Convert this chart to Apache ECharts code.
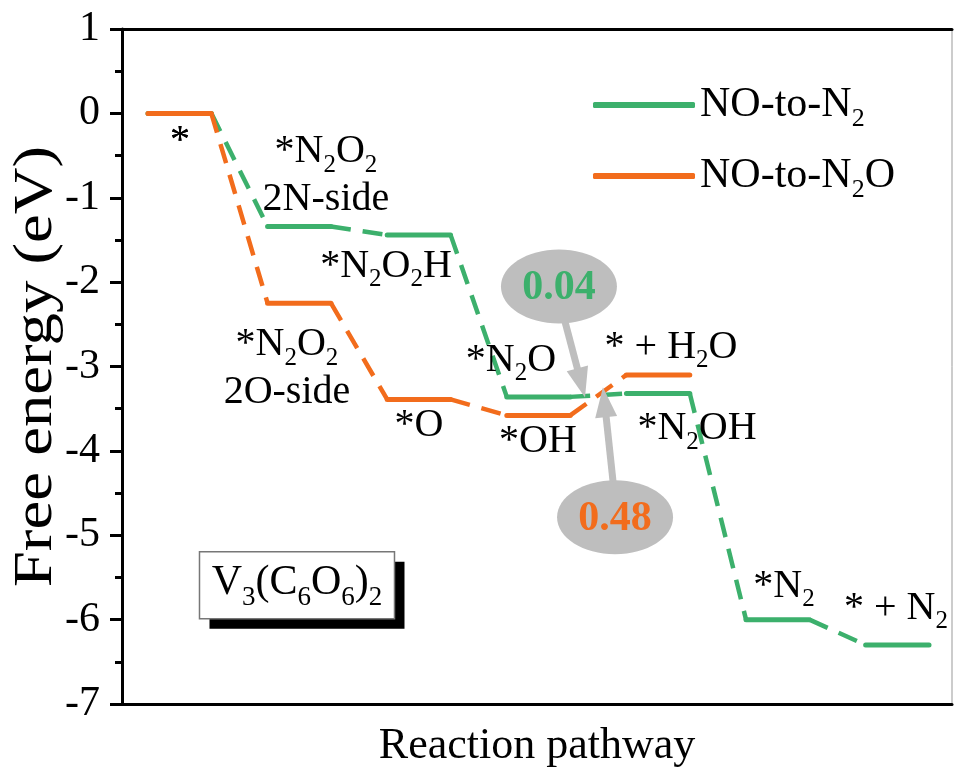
<!DOCTYPE html>
<html><head><meta charset="utf-8">
<script src="https://cdn.jsdelivr.net/npm/echarts@6/dist/echarts.min.js"></script>
<style>html,body{margin:0;padding:0;background:#fff}#c{width:955px;height:775px}</style>
</head><body><div id="c"></div>
<script>
// ---- data ----
const n2Steps  = ['*', '*N2O2 (2N-side)', '*N2O2H', '*N2O', '*N2OH', '*N2', '* + N2'];
const n2Energy = [0, -1.34, -1.44, -3.36, -3.32, -6.00, -6.30];
const n2oSteps  = ['*', '*N2O2 (2O-side)', '*O', '*OH', '* + H2O'];
const n2oEnergy = [0, -2.25, -3.39, -3.58, -3.10];
const yTicks = [1, 0, -1, -2, -3, -4, -5, -6, -7];
const barrierN2 = '0.04';
const barrierN2O = '0.48';
const material = 'V3(C6O6)2';

// ---- style / layout ----
const FONT = '"Liberation Serif","Times New Roman",serif';
const GREEN = '#3cb06c', ORANGE = '#f26c1c', GREY = '#bebebe';
const W = 0.53; // level width in step units
const rich = {
  m: {fontFamily: FONT, fontSize: 40, lineHeight: 44, color: '#000'},
  s: {fontFamily: FONT, fontSize: 25, lineHeight: 52, verticalAlign: 'bottom', color: '#000'}
};
const labelText = {
  '*': '{m|*}',
  '*N2O2 (2N-side)': '{m|*N}{s|2}{m|O}{s|2}\n{m|2N-side}',
  '*N2O2H': '{m|*N}{s|2}{m|O}{s|2}{m|H}',
  '*N2O': '{m|*N}{s|2}{m|O}',
  '*N2OH': '{m|*N}{s|2}{m|OH}',
  '*N2': '{m|*N}{s|2}',
  '* + N2': '{m|* + N}{s|2}',
  '*N2O2 (2O-side)': '{m|*N}{s|2}{m|O}{s|2}\n{m|2O-side}',
  '*O': '{m|*O}',
  '*OH': '{m|*OH}',
  '* + H2O': '{m|* + H}{s|2}{m|O}'
};
const labelPos = {
  '*': [0.268, -0.333],
  '*N2O2 (2N-side)': [1.488, -0.712],
  '*N2O2H': [1.99, -1.814],
  '*N2O': [3.035, -2.928],
  '*N2OH': [4.59, -3.735],
  '*N2': [5.318, -5.605],
  '* + N2': [6.254, -5.866],
  '*N2O2 (2O-side)': [1.162, -3.00],
  '*O': [2.266, -3.70],
  '*OH': [3.26, -3.887],
  '* + H2O': [4.373, -2.774]
};

function levelData(vals) {
  const d = [];
  vals.forEach((v, i) => { d.push([i, v], [i + W, v], [i + W + 0.01, '-']); });
  return d;
}
function connData(vals) {
  const d = [];
  for (let i = 0; i < vals.length - 1; i++) {
    d.push([i + W, vals[i]], [i + 1, vals[i + 1]], [i + 1.01, '-']);
  }
  return d;
}

const chart = echarts.init(document.getElementById('c'));
const xMin = -0.217, xMax = 6.722;
chart.setOption({
  animation: false,
  grid: {left: 122, right: 3, top: 29, bottom: 71, show: true, borderColor: '#999', borderWidth: 1,
         containLabel: false, outerBoundsMode: 'none'},
  legend: {
    orient: 'vertical', left: 588, top: 79, itemGap: 23, itemWidth: 102, itemHeight: 6,
    icon: 'roundRect', itemTextGap: 10,
    data: ['NO-to-N2', 'NO-to-N2O'],
    formatter: n => n === 'NO-to-N2' ? '{m|NO-to-N}{s|2}' : '{m|NO-to-N}{s|2}{m|O}',
    textStyle: {rich: {
      m: {fontFamily: FONT, fontSize: 42, lineHeight: 44, color: '#000'},
      s: {fontFamily: FONT, fontSize: 26, lineHeight: 54, verticalAlign: 'bottom', color: '#000'}
    }}
  },
  xAxis: [{
    type: 'value', min: xMin, max: xMax,
    axisLine: {show: true, onZero: false, lineStyle: {color: '#000', width: 3}},
    axisTick: {show: false}, axisLabel: {show: false}, splitLine: {show: false},
    name: 'Reaction pathway', nameLocation: 'middle', nameGap: 20,
    nameTextStyle: {fontFamily: FONT, fontSize: 44, color: '#000'}
  }, {
    type: 'value', min: xMin, max: xMax, position: 'top',
    axisLine: {show: true, onZero: false, lineStyle: {color: '#000', width: 3}},
    axisTick: {show: false}, axisLabel: {show: false}, splitLine: {show: false}
  }],
  yAxis: {
    type: 'value', min: Math.min(...yTicks), max: Math.max(...yTicks), interval: 1,
    axisLine: {show: true, onZero: false, lineStyle: {color: '#000', width: 3}},
    axisTick: {show: true, inside: false, length: 12, lineStyle: {color: '#000', width: 3}},
    minorTick: {show: true, splitNumber: 2, length: 7, lineStyle: {color: '#000', width: 3}},
    splitLine: {show: false},
    axisLabel: {margin: 22, fontFamily: FONT, fontSize: 42, color: '#000'}
  },
  series: [
    {name: 'NO-to-N2 path', type: 'line', data: connData(n2Energy), showSymbol: false, silent: true,
     color: GREEN, lineStyle: {color: GREEN, width: 4.5, type: [20, 12]}, z: 2},
    {name: 'NO-to-N2', type: 'line', data: levelData(n2Energy), showSymbol: false, silent: true,
     color: GREEN, lineStyle: {color: GREEN, width: 5, cap: 'round'}, z: 3},
    {name: 'NO-to-N2O path', type: 'line', data: connData(n2oEnergy), showSymbol: false, silent: true,
     color: ORANGE, lineStyle: {color: ORANGE, width: 4.5, type: [20, 12]}, z: 4},
    {name: 'NO-to-N2O', type: 'line', data: levelData(n2oEnergy), showSymbol: false, silent: true,
     color: ORANGE, lineStyle: {color: ORANGE, width: 5, cap: 'round'}, z: 5}
  ]
});

// ---- annotations (placed through the chart's own scales) ----
const px = p => chart.convertToPixel({gridIndex: 0}, p);
const g = [];
// y axis title (text stretched along its length as in the original figure)
const yMid = px([xMin, -3])[1];
g.push({type: 'text', x: 37, y: yMid, rotation: Math.PI / 2, scaleX: 1.2, silent: true,
  style: {text: 'Free energy (eV)', font: '54px ' + FONT, fill: '#000', align: 'center', verticalAlign: 'middle', textAlign: 'center', textVerticalAlign: 'middle'}});
[...n2Steps, ...n2oSteps].forEach(k => {
  if (!labelPos[k]) return;
  const p = px(labelPos[k]);
  g.push({type: 'text', x: p[0], y: p[1], z: 50, silent: true,
    style: {text: labelText[k], rich: rich, align: 'center', verticalAlign: 'middle', textAlign: 'center', textVerticalAlign: 'middle'}});
});
function arrow(a, b) {
  const dx = b[0] - a[0], dy = b[1] - a[1], L = Math.hypot(dx, dy), ux = dx / L, uy = dy / L;
  const hl = 30, hw = 11, bx = b[0] - ux * hl, by = b[1] - uy * hl;
  return [
    {type: 'line', z: 60, silent: true, shape: {x1: a[0], y1: a[1], x2: bx + ux * 2, y2: by + uy * 2}, style: {stroke: GREY, lineWidth: 7}},
    {type: 'polygon', z: 60, silent: true, shape: {points: [[b[0], b[1]], [bx - uy * hw, by + ux * hw], [bx + uy * hw, by - ux * hw]]}, style: {fill: GREY}}
  ];
}
const notes = [
  {text: barrierN2, color: GREEN, center: [3.436, -2.051], from: [3.487, -2.47], to: [3.654, -3.366]},
  {text: barrierN2O, color: ORANGE, center: [3.905, -4.788], from: [3.888, -4.36], to: [3.804, -3.247]}
];
notes.forEach(n => {
  const c = px(n.center);
  g.push({type: 'ellipse', z: 60, silent: true, shape: {cx: c[0], cy: c[1], rx: 58, ry: 37}, style: {fill: GREY}});
  g.push({type: 'text', z: 61, silent: true, x: c[0], y: c[1] + 2,
    style: {text: n.text, fill: n.color, font: 'bold 42px ' + FONT, align: 'center', verticalAlign: 'middle', textAlign: 'center', textVerticalAlign: 'middle'}});
  g.push(...arrow(px(n.from), px(n.to)));
});
const bc = px([1.246, -5.594]);
const bw = 195, bh = 67;
g.push({type: 'rect', z: 40, silent: true, shape: {x: bc[0] - bw / 2 + 10, y: bc[1] - bh / 2 + 10, width: bw, height: bh}, style: {fill: '#000'}});
g.push({type: 'rect', z: 41, silent: true, shape: {x: bc[0] - bw / 2, y: bc[1] - bh / 2, width: bw, height: bh}, style: {fill: '#fff', stroke: '#777', lineWidth: 1.5}});
g.push({type: 'text', z: 42, silent: true, x: bc[0], y: bc[1] - 2,
  style: {text: '{m|V}{s|3}{m|(C}{s|6}{m|O}{s|6}{m|)}{s|2}', rich: {
    m: {fontFamily: FONT, fontSize: 42, lineHeight: 44, color: '#000'},
    s: {fontFamily: FONT, fontSize: 27, lineHeight: 56, verticalAlign: 'bottom', color: '#000'}},
    align: 'center', verticalAlign: 'middle', textAlign: 'center', textVerticalAlign: 'middle'}});
chart.setOption({graphic: g});
</script></body></html>
